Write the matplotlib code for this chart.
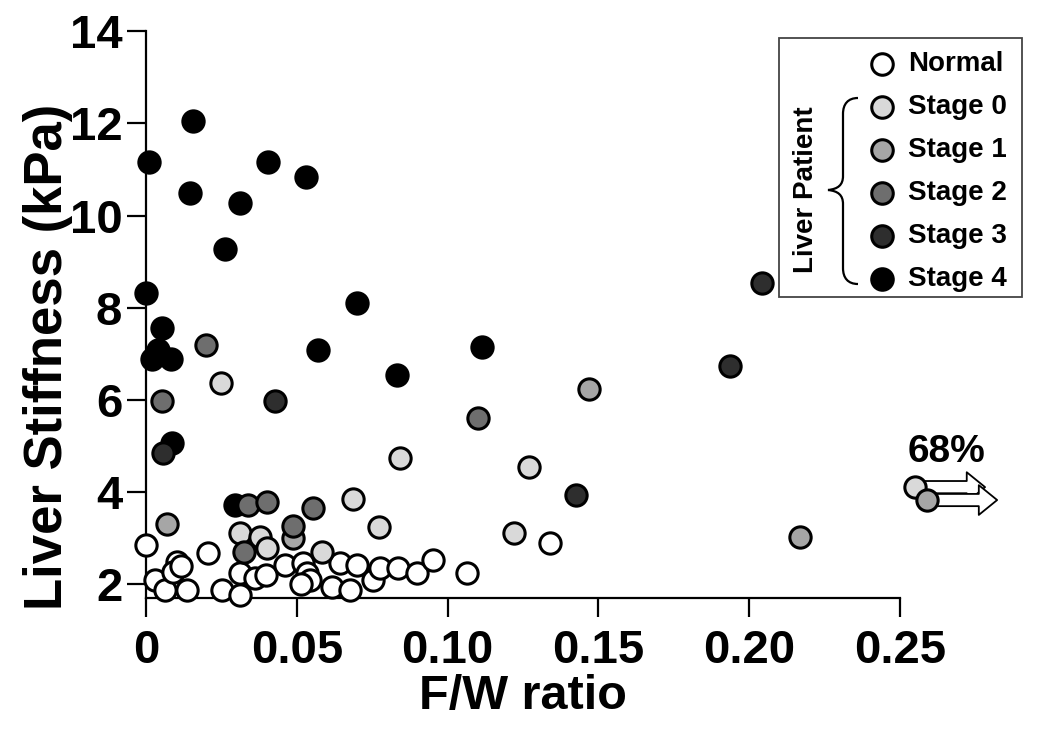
import matplotlib
matplotlib.use('Agg')
import matplotlib.pyplot as plt
from matplotlib.path import Path
from matplotlib.patches import PathPatch, Rectangle

plt.rcParams['font.family'] = ['Liberation Sans', 'DejaVu Sans']
plt.rcParams['font.weight'] = 'bold'

# ---------------- data ----------------
normal_x = [0.000, 0.003, 0.0063, 0.0103, 0.009, 0.0116, 0.0136, 0.0206, 0.0252, 0.0312,
            0.0312, 0.0361, 0.0398, 0.0461, 0.0521, 0.0534, 0.0544, 0.0514, 0.0617, 0.0643,
            0.0676, 0.0700, 0.0753, 0.0776, 0.0836, 0.0899, 0.0952, 0.1064, 0.1340]
normal_y = [2.85, 2.10, 1.88, 2.49, 2.27, 2.40, 1.88, 2.68, 1.88, 2.25,
            1.77, 2.14, 2.20, 2.42, 2.47, 2.25, 2.10, 2.01, 1.94, 2.47,
            1.88, 2.42, 2.10, 2.36, 2.36, 2.25, 2.53, 2.25, 2.90]

stage0_x = [0.0249, 0.0842, 0.1270, 0.0686, 0.0773, 0.1220, 0.0312, 0.0378, 0.0401, 0.0584, 0.2550]
stage0_y = [6.37, 4.74, 4.55, 3.85, 3.24, 3.11, 3.11, 3.03, 2.79, 2.70, 4.11]

stage1_x = [0.0070, 0.1469, 0.2168, 0.0487, 0.2590]
stage1_y = [3.31, 6.24, 3.03, 3.01, 3.83]

stage2_x = [0.0053, 0.0199, 0.1100, 0.0338, 0.0401, 0.0554, 0.0487, 0.0325]
stage2_y = [5.98, 7.19, 5.61, 3.72, 3.79, 3.66, 3.27, 2.70]

stage3_x = [0.0056, 0.0428, 0.1936, 0.2042, 0.1426]
stage3_y = [4.85, 5.98, 6.74, 8.54, 3.94]

stage4_x = [0.0156, 0.0010, 0.0146, 0.0405, 0.0312, 0.0530, 0.0262, 0.0000, 0.0700,
            0.0053, 0.0570, 0.1114, 0.0832, 0.0040, 0.0020, 0.0083, 0.0086, 0.0295]
stage4_y = [12.05, 11.16, 10.49, 11.16, 10.27, 10.84, 9.28, 8.32, 8.10,
            7.56, 7.08, 7.15, 6.54, 7.08, 6.89, 6.89, 5.07, 3.72]

x_ticks = [0, 0.05, 0.10, 0.15, 0.20, 0.25]
x_ticklabels = ['0', '0.05', '0.10', '0.15', '0.20', '0.25']
y_ticks = [2, 4, 6, 8, 10, 12, 14]

legend_labels = ['Normal', 'Stage 0', 'Stage 1', 'Stage 2', 'Stage 3', 'Stage 4']
colors = ['#ffffff', '#d9d9d9', '#a6a6a6', '#6e6e6e', '#2e2e2e', '#000000']
group_label = 'Liver Patient'
pct_label = '68%'

# ---------------- figure ----------------
fig = plt.figure(figsize=(10.5, 7.4), dpi=100)
ax = fig.add_axes([0.139, 0.1919, 0.8187, 0.7659])
ax.set_xlim(0, 0.285)
ax.set_ylim(1.705, 14)

series = [
    (normal_x, normal_y, colors[0], 3),
    (stage4_x, stage4_y, colors[5], 4),
    (stage0_x, stage0_y, colors[1], 5),
    (stage1_x, stage1_y, colors[2], 6),
    (stage2_x, stage2_y, colors[3], 7),
    (stage3_x, stage3_y, colors[4], 8),
]
S = 235
for xs, ys, c, z in series:
    ax.scatter(xs, ys, s=S, c=c, edgecolors='black', linewidths=2.2,
               zorder=z, clip_on=False)

# arrows for off-scale points (start at last two points)
for xs, ys in [(stage0_x, stage0_y), (stage1_x, stage1_y)]:
    x0, y0 = xs[-1], ys[-1]
    ax.annotate('', xy=(x0 + 0.0232, y0), xytext=(x0, y0),
                xycoords='data', textcoords='data', annotation_clip=False,
                arrowprops=dict(arrowstyle='simple,head_length=1.2,head_width=1.95,tail_width=0.8',
                                mutation_scale=11, fc='white', ec='black', lw=1.3,
                                shrinkA=0, shrinkB=0), zorder=2)

ax.text(0.2655, 4.87, pct_label, fontsize=28, fontweight='bold', ha='center', va='center')

for side in ['top', 'right']:
    ax.spines[side].set_visible(False)
ax.spines['left'].set_linewidth(1.6)
ax.spines['bottom'].set_linewidth(1.6)
ax.spines['bottom'].set_bounds(0, 0.25)

ax.set_xticks(x_ticks)
ax.set_xticklabels(x_ticklabels)
ax.set_yticks(y_ticks)
ax.tick_params(axis='both', direction='out', length=14, width=1.6, labelsize=34)
ax.tick_params(axis='x', pad=8)
ax.tick_params(axis='y', pad=3)
for lab in ax.get_xticklabels() + ax.get_yticklabels():
    lab.set_fontweight('bold')

ax.set_xlabel('F/W ratio', fontsize=35, fontweight='bold')
ax.xaxis.label.set_va('center')
ax.xaxis.set_label_coords(0.4386, -0.173)
ax.set_ylabel('Liver Stiffness (kPa)', fontsize=38, fontweight='bold')
ax.yaxis.label.set_va('center')
ax.yaxis.set_label_coords(-0.114, 0.425)

# ---------------- legend (overlay in pixel coords) ----------------
oax = fig.add_axes([0, 0, 1, 1], zorder=10)
oax.set_xlim(0, 1050)
oax.set_ylim(740, 0)
oax.axis('off')

oax.add_patch(Rectangle((779, 38), 243, 259, fill=False, ec='#444444', lw=1.3))
row_y = [64, 107, 150, 193, 236, 279]
for lab, c, yy in zip(legend_labels, colors, row_y):
    oax.scatter([882], [yy], s=240, c=c, edgecolors='black', linewidths=2.2)
    oax.text(908, yy, lab, fontsize=20, fontweight='bold', ha='left', va='center')

oax.text(806, 190, group_label, fontsize=20, fontweight='bold', rotation=90,
         ha='center', va='center')

verts = [(858, 98), (848, 98), (843, 104), (843, 114),
         (843, 176),
         (843, 185), (838, 189), (828, 190),
         (838, 191), (843, 195), (843, 204),
         (843, 268),
         (843, 278), (848, 284), (858, 284)]
codes = [Path.MOVETO, Path.CURVE4, Path.CURVE4, Path.CURVE4,
         Path.LINETO,
         Path.CURVE4, Path.CURVE4, Path.CURVE4,
         Path.CURVE4, Path.CURVE4, Path.CURVE4,
         Path.LINETO,
         Path.CURVE4, Path.CURVE4, Path.CURVE4]
oax.add_patch(PathPatch(Path(verts, codes), fill=False, ec='black', lw=1.6))

fig.savefig('out.png', dpi=100)
